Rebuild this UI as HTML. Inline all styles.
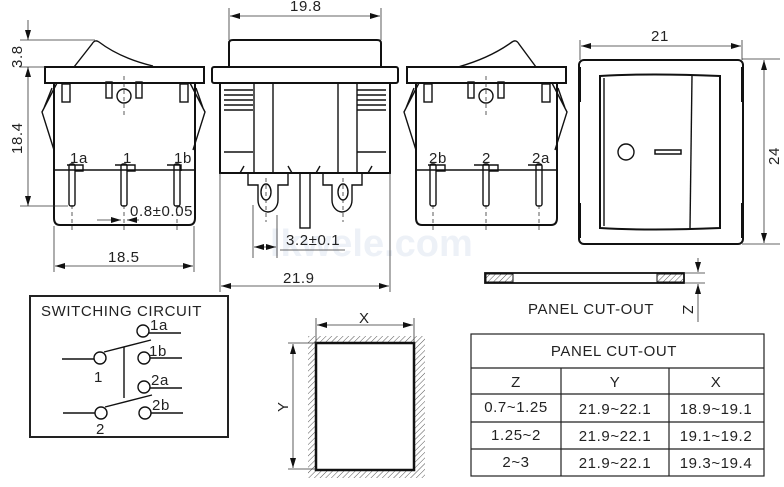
<!DOCTYPE html>
<html><head><meta charset="utf-8"><style>
html,body{margin:0;padding:0;background:#fff;}
svg{display:block;font-family:"Liberation Sans",sans-serif;}
.t{fill:#222;font-size:15px;letter-spacing:0.6px;}
.d{stroke:#333;stroke-width:0.8;fill:none;}
.k{stroke:#111;stroke-width:2;fill:none;}
.m{stroke:#111;stroke-width:1.4;fill:none;}
.c{stroke:#333;stroke-width:0.8;stroke-dasharray:4 3;fill:none;}
</style></head><body>
<svg width="784" height="487" viewBox="0 0 784 487" xmlns="http://www.w3.org/2000/svg">
<defs>
<marker id="a" viewBox="0 0 10 6" refX="10" refY="3" markerWidth="10" markerHeight="6" orient="auto-start-reverse" markerUnits="userSpaceOnUse"><path d="M0,0L10,3L0,6z" fill="#111"/></marker>
<pattern id="h" width="4" height="4" patternUnits="userSpaceOnUse" patternTransform="rotate(45)"><line x1="0" y1="0" x2="0" y2="4" stroke="#555" stroke-width="1"/></pattern>
</defs>
<text x="270" y="256" font-size="38" font-weight="bold" fill="#edf1f7">lkwele.com</text>

<!-- LEFT VIEW -->
<path class="m" d="M74,67 L92,44 Q95,39 99,42 Q120,58 153,66"/>
<rect class="k" x="45" y="67" width="159" height="16"/>
<path class="k" d="M54,83 V218 Q54,225 60,225 H189 Q195,225 195,218 V83"/>
<line class="m" x1="54" y1="170" x2="195" y2="170"/>
<path class="m" d="M57,83 L42,112 L54,150 M52,88 L44,108 M190,83 L205,112 L193,150 M196,88 L203,108"/>
<rect class="m" x="62" y="84" width="8" height="18"/><rect class="m" x="106" y="82" width="6" height="16"/><rect class="m" x="136" y="82" width="6" height="16"/><rect class="m" x="180" y="84" width="8" height="18"/>
<circle class="m" cx="124" cy="96" r="7"/>
<line class="c" x1="124" y1="76" x2="124" y2="118"/>
<g class="m"><rect x="69" y="164" width="6" height="42" rx="2"/><rect x="121" y="164" width="6" height="42" rx="2"/><rect x="174" y="164" width="6" height="42" rx="2"/>
<path d="M67,165 H83 V171 H75 M115,165 H135 V171 H127 M167,165 H181 V171"/></g>
<g class="c"><line x1="72" y1="205" x2="72" y2="232"/><line x1="124" y1="205" x2="124" y2="232"/><line x1="177" y1="205" x2="177" y2="232"/></g>
<text class="t" x="70" y="163">1a</text><text class="t" x="123" y="163">1</text><text class="t" x="174" y="163">1b</text>
<line class="d" x1="20" y1="40" x2="95" y2="40"/><line class="d" x1="20" y1="67" x2="45" y2="67"/><line class="d" x1="20" y1="206" x2="68" y2="206"/>
<line class="d" x1="28" y1="20" x2="28" y2="40" marker-end="url(#a)"/><line class="d" x1="28" y1="67" x2="28" y2="206" marker-start="url(#a)" marker-end="url(#a)"/>
<text class="t" transform="translate(22,68) rotate(-90)">3.8</text><text class="t" transform="translate(22,154) rotate(-90)">18.4</text>
<line class="d" x1="97" y1="220" x2="121" y2="220" marker-end="url(#a)"/><line class="d" x1="139" y1="220" x2="127" y2="220" marker-end="url(#a)"/>
<text class="t" x="130" y="216">0.8±0.05</text>
<line class="d" x1="54" y1="226" x2="54" y2="272"/><line class="d" x1="194" y1="226" x2="194" y2="272"/>
<line class="d" x1="55" y1="266" x2="193" y2="266" marker-start="url(#a)" marker-end="url(#a)"/>
<text class="t" x="108" y="262">18.5</text>

<!-- MIDDLE VIEW -->
<line class="d" x1="229" y1="8" x2="229" y2="40"/><line class="d" x1="381" y1="8" x2="381" y2="40"/>
<line class="d" x1="230" y1="16" x2="380" y2="16" marker-start="url(#a)" marker-end="url(#a)"/>
<text class="t" x="290" y="11">19.8</text>
<path class="k" d="M229,67 V43 Q229,40 233,40 H377 Q381,40 381,43 V67"/>
<rect class="k" x="212" y="67" width="186" height="16" rx="2"/>
<path class="k" d="M220,83 V173 H390 V83"/>
<g class="m"><line x1="254" y1="83" x2="254" y2="173"/><line x1="273" y1="83" x2="273" y2="173"/><line x1="338" y1="83" x2="338" y2="173"/><line x1="357" y1="83" x2="357" y2="173"/>
<path d="M224,90H253M224,95H253M224,100H253M224,105H253M224,110H253M224,152H253M357,90H386M357,95H386M357,100H386M357,105H386M357,110H386M357,152H386"/>
<path d="M248,173 V185 H258 V200 A10 12 0 0 0 278,200 V185 H288 V173 M323,173 V185 H332 V200 A10 12 0 0 0 352,200 V185 H362 V173"/>
<ellipse cx="266" cy="192" rx="5" ry="8"/><ellipse cx="343" cy="192" rx="5" ry="8"/>
<rect x="300" y="173" width="10" height="55"/>
<path d="M240,173 L244,166 M292,173 L288,166 M316,173 L320,166 M368,173 L372,166"/></g>
<line class="c" x1="266" y1="178" x2="266" y2="222"/><line class="c" x1="343" y1="178" x2="343" y2="222"/>
<line class="d" x1="253" y1="205" x2="253" y2="258"/><line class="d" x1="277" y1="215" x2="277" y2="258"/>
<line class="d" x1="254" y1="247" x2="276" y2="247" marker-start="url(#a)" marker-end="url(#a)"/>
<line class="d" x1="280" y1="250" x2="345" y2="250"/>
<text class="t" x="286" y="245">3.2±0.1</text>
<line class="d" x1="220" y1="173" x2="220" y2="292"/><line class="d" x1="390" y1="173" x2="390" y2="292"/>
<line class="d" x1="221" y1="286" x2="389" y2="286" marker-start="url(#a)" marker-end="url(#a)"/>
<text class="t" x="283" y="283">21.9</text>

<!-- RIGHT VIEW -->
<path class="m" d="M458,67 Q490,58 512,42 Q516,39 519,44 L536,67"/>
<rect class="k" x="407" y="67" width="159" height="16"/>
<path class="k" d="M416,83 V218 Q416,225 422,225 H551 Q557,225 557,218 V83"/>
<line class="m" x1="416" y1="170" x2="557" y2="170"/>
<path class="m" d="M419,83 L404,112 L416,150 M414,88 L406,108 M552,83 L567,112 L555,150 M558,88 L565,108"/>
<rect class="m" x="424" y="84" width="8" height="18"/><rect class="m" x="468" y="82" width="6" height="16"/><rect class="m" x="498" y="82" width="6" height="16"/><rect class="m" x="542" y="84" width="8" height="18"/>
<circle class="m" cx="486" cy="96" r="7"/>
<line class="c" x1="486" y1="76" x2="486" y2="118"/>
<g class="m"><rect x="430" y="164" width="6" height="42" rx="2"/><rect x="483" y="164" width="6" height="42" rx="2"/><rect x="536" y="164" width="6" height="42" rx="2"/>
<path d="M428,165 H445 V171 H436 M474,165 H498 V171 H489 M528,165 H542"/></g>
<g class="c"><line x1="433" y1="205" x2="433" y2="232"/><line x1="486" y1="205" x2="486" y2="232"/><line x1="539" y1="205" x2="539" y2="232"/></g>
<text class="t" x="429" y="163">2b</text><text class="t" x="482" y="163">2</text><text class="t" x="532" y="163">2a</text>

<!-- FRONT VIEW -->
<line class="d" x1="580" y1="40" x2="580" y2="60"/><line class="d" x1="742" y1="40" x2="742" y2="60"/>
<line class="d" x1="581" y1="46" x2="741" y2="46" marker-start="url(#a)" marker-end="url(#a)"/>
<text class="t" x="651" y="41">21</text>
<rect class="k" x="579" y="60" width="164" height="184" rx="5"/>
<g fill="#111"><rect x="578" y="67" width="3" height="35"/><rect x="578" y="203" width="3" height="35"/><rect x="741" y="67" width="3" height="35"/><rect x="741" y="203" width="3" height="35"/></g>
<path class="k" d="M600,76 Q650,73 720,76 V228 Q650,231 600,228 Z"/>
<line class="m" x1="604" y1="78" x2="604" y2="226"/>
<line class="m" x1="692" y1="76" x2="690" y2="228"/>
<circle class="m" cx="626" cy="152" r="8"/>
<rect x="655" y="150" width="26" height="4" fill="#fff" stroke="#111" stroke-width="1.5"/>
<line class="d" x1="742" y1="59" x2="780" y2="59"/><line class="d" x1="742" y1="244" x2="780" y2="244"/>
<line class="d" x1="764" y1="60" x2="764" y2="243" marker-start="url(#a)" marker-end="url(#a)"/>
<text class="t" transform="translate(779,165) rotate(-90)">24</text>

<!-- PANEL SIDE -->
<rect x="485" y="273" width="199" height="10" fill="#fff" stroke="#111" stroke-width="1.8"/>
<rect x="486" y="274" width="27" height="8" fill="url(#h)" stroke="#111" stroke-width="1"/>
<rect x="657" y="274" width="27" height="8" fill="url(#h)" stroke="#111" stroke-width="1"/>
<line class="d" x1="684" y1="273" x2="705" y2="273"/><line class="d" x1="684" y1="283" x2="705" y2="283"/>
<line class="d" x1="698" y1="258" x2="698" y2="272" marker-end="url(#a)"/><line class="d" x1="698" y1="322" x2="698" y2="284" marker-end="url(#a)"/>
<text class="t" x="528" y="314">PANEL CUT-OUT</text>
<text class="t" transform="translate(683,305) rotate(90)">Z</text>

<!-- TABLE -->
<g stroke="#222" stroke-width="1.2" fill="none">
<rect x="471" y="334" width="293" height="142"/>
<line x1="471" y1="368" x2="764" y2="368"/><line x1="471" y1="394" x2="764" y2="394"/><line x1="471" y1="422" x2="764" y2="422"/><line x1="471" y1="449" x2="764" y2="449"/>
<line x1="561" y1="368" x2="561" y2="476"/><line x1="669" y1="368" x2="669" y2="476"/></g>
<g class="t" text-anchor="middle">
<text x="614" y="356">PANEL CUT-OUT</text>
<text x="516" y="387">Z</text><text x="615" y="387">Y</text><text x="716" y="387">X</text>
<text x="516" y="412">0.7~1.25</text><text x="615" y="414">21.9~22.1</text><text x="716" y="414">18.9~19.1</text>
<text x="516" y="440">1.25~2</text><text x="615" y="441">21.9~22.1</text><text x="716" y="441">19.1~19.2</text>
<text x="516" y="467">2~3</text><text x="615" y="468">21.9~22.1</text><text x="716" y="468">19.3~19.4</text></g>

<!-- SWITCHING CIRCUIT -->
<rect x="30" y="296" width="198" height="141" fill="none" stroke="#222" stroke-width="2"/>
<text class="t" x="41" y="316">SWITCHING CIRCUIT</text>
<g class="m" stroke-width="1.8">
<line x1="62" y1="359" x2="94" y2="359"/><circle cx="100" cy="358" r="6"/>
<line x1="104" y1="352" x2="151" y2="340"/>
<circle cx="143" cy="331" r="6"/><line x1="149" y1="333" x2="181" y2="333"/>
<circle cx="144" cy="358" r="6"/><line x1="150" y1="358" x2="182" y2="358"/>
<line x1="124" y1="347" x2="124" y2="398"/>
<line x1="63" y1="413" x2="95" y2="413"/><circle cx="101" cy="413" r="6"/>
<line x1="105" y1="407" x2="152" y2="395"/>
<circle cx="144" cy="387" r="6"/><line x1="150" y1="388" x2="182" y2="388"/>
<circle cx="145" cy="413" r="6"/><line x1="151" y1="413" x2="183" y2="413"/></g>
<text class="t" x="150" y="330">1a</text><text class="t" x="149" y="356">1b</text><text class="t" x="94" y="382">1</text>
<text class="t" x="151" y="385">2a</text><text class="t" x="152" y="410">2b</text><text class="t" x="96" y="434">2</text>

<!-- CUTOUT -->
<rect x="308" y="336" width="117" height="142" fill="url(#h)"/>
<rect x="316" y="343" width="98" height="127" fill="#fff" stroke="#111" stroke-width="2.5"/>
<line class="d" x1="316" y1="318" x2="316" y2="343"/><line class="d" x1="414" y1="318" x2="414" y2="343"/>
<line class="d" x1="317" y1="325" x2="413" y2="325" marker-start="url(#a)" marker-end="url(#a)"/>
<text class="t" x="359" y="323">X</text>
<line class="d" x1="288" y1="343" x2="316" y2="343"/><line class="d" x1="288" y1="469" x2="316" y2="469"/>
<line class="d" x1="293" y1="344" x2="293" y2="468" marker-start="url(#a)" marker-end="url(#a)"/>
<text class="t" transform="translate(288,412) rotate(-90)">Y</text>
</svg>
</body></html>
